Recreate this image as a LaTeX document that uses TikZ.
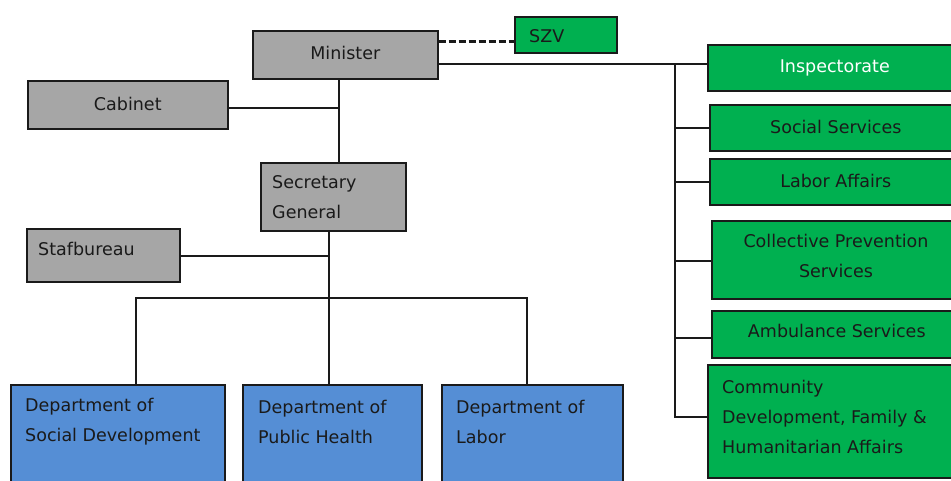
\documentclass[tikz,border=0pt]{standalone}
\usepackage{fontspec}
\setmainfont{DejaVu Sans}
\definecolor{boxgray}{HTML}{A6A6A6}
\definecolor{boxgreen}{HTML}{00B050}
\definecolor{boxblue}{HTML}{558ED5}
\definecolor{ink}{HTML}{1A1A1A}
\tikzset{
  box/.style={draw=ink, line width=1.6pt, inner sep=0pt, anchor=north west, font=\fontsize{17.5}{30}\selectfont, text=ink},
  gray/.style={box, fill=boxgray},
  green/.style={box, fill=boxgreen},
  blue/.style={box, fill=boxblue},
  lbl/.style={inner sep=0pt, font=\fontsize{17.5}{30}\selectfont, text=ink, align=left},
  conn/.style={draw=ink, line width=1.5pt},
  dconn/.style={draw=ink, line width=3pt, dash pattern=on 7pt off 3pt}
}
\begin{document}
\begin{tikzpicture}[x=1pt, y=-1pt]
\useasboundingbox[fill=white] (0,0) rectangle (951,481);
\clip (0,0) rectangle (951,481);
% grey boxes
\node[gray, minimum width=185pt, minimum height=48pt] (min) at (252,30) {\raisebox{4pt}{Minister}};
\node[gray, minimum width=200pt, minimum height=48pt] (cab) at (27,80) {\raisebox{2pt}{Cabinet}};
\node[gray, minimum width=145pt, minimum height=68pt] (sg) at (260,162) {};
\node[lbl, anchor=west] (sgt) at (272,197) {Secretary\\General};
\node[gray, minimum width=153pt, minimum height=53pt] (staf) at (26,228) {};
\node[lbl, anchor=west] (staft) at (38,249) {Stafbureau};
% blue boxes
\node[blue, minimum width=214pt, minimum height=120pt] (d1) at (10,384) {};
\node[lbl, anchor=west] (d1t) at (25,422) {Department of\\Social Development};
\node[blue, minimum width=179pt, minimum height=120pt] (d2) at (242,384) {};
\node[lbl, anchor=west] (d2t) at (258,422) {Department of\\Public Health};
\node[blue, minimum width=181pt, minimum height=120pt] (d3) at (441,384) {};
\node[lbl, anchor=west] (d3t) at (456,422) {Department of\\Labor};
% green boxes
\node[green, minimum width=102pt, minimum height=36pt] (szv) at (514,16) {};
\node[lbl, anchor=west] (szvt) at (529,36) {SZV};
\node[green, minimum width=254pt, minimum height=46pt, text=white] (insp) at (707,44) {\raisebox{2pt}{Inspectorate}};
\node[green, minimum width=252pt, minimum height=46pt] (soc) at (709,104) {\raisebox{2pt}{Social Services}};
\node[green, minimum width=252pt, minimum height=46pt] (lab) at (709,158) {\raisebox{2pt}{Labor Affairs}};
\node[green, minimum width=250pt, minimum height=78pt] (col) at (711,220) {};
\node[lbl, align=center] (colt) at (836,256) {Collective Prevention\\Services};
\node[green, minimum width=250pt, minimum height=47pt] (amb) at (711,310) {\raisebox{6pt}{Ambulance Services}};
\node[green, minimum width=254pt, minimum height=113pt] (com) at (707,364) {};
\node[lbl, anchor=west] (comt) at (722,417) {Community\\Development, Family \&\\Humanitarian Affairs};
% junction coordinates
\coordinate (j1) at (339,108);
\coordinate (j2) at (329,256);
\coordinate (b1) at (136,298);
\coordinate (b3) at (527,298);
\coordinate (dsh) at (475,42);
\coordinate (t0) at (675,64);
\coordinate (tb) at (675,417);
% connectors
\draw[conn] (min.south -| j1) -- (sg.north -| j1);
\draw[conn] (cab.east |- j1) -- (j1);
\draw[conn] (sg.south -| j2) -- (d2.north -| j2);
\draw[conn] (staf.east |- j2) -- (j2);
\draw[conn] (d1.north -| b1) -- (b1) -- (b3) -- (d3.north -| b3);
\draw[dconn] (min.east |- dsh) -- (szv.west |- dsh);
\draw[conn] (min.east |- t0) -- (insp.west |- t0);
\draw[conn] (t0) -- (tb) -- (com.west |- tb);
\draw[conn] (soc.west -| t0) -- (soc.west);
\draw[conn] (lab.west -| t0) -- (lab.west);
\draw[conn] ([yshift=-1pt]col.west -| t0) -- ([yshift=-1pt]col.west);
\draw[conn] ([yshift=-3.5pt]amb.west -| t0) -- ([yshift=-3.5pt]amb.west);
\end{tikzpicture}
\end{document}
